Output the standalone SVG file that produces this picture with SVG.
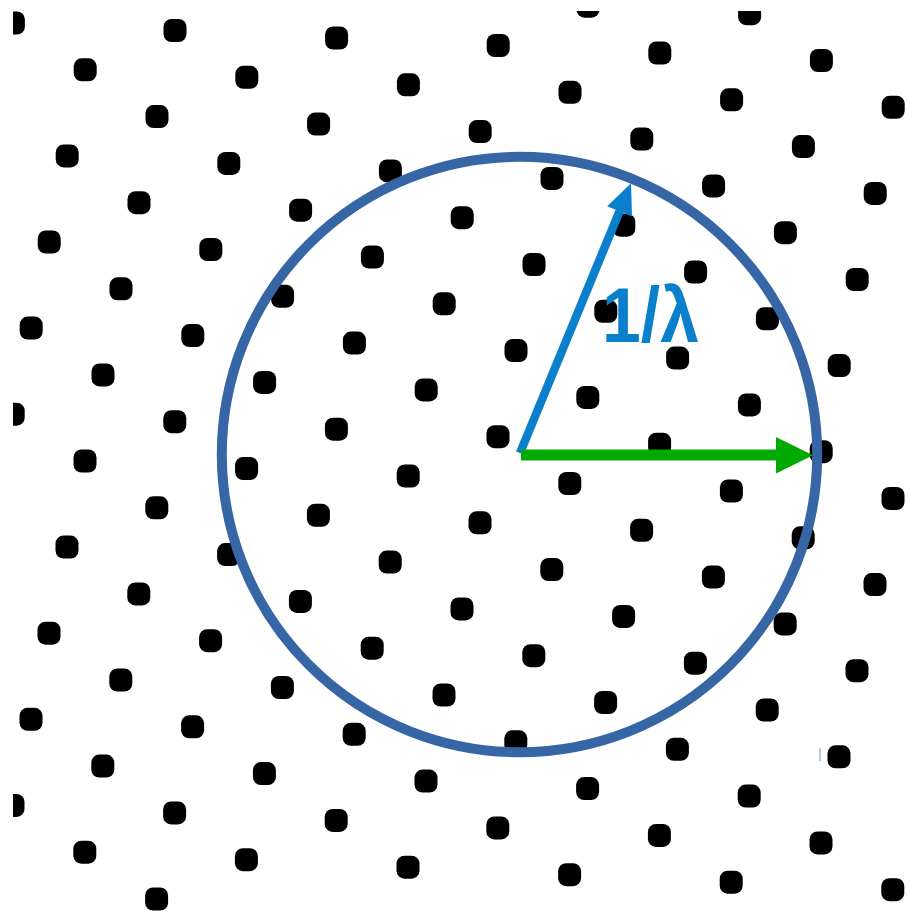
<svg xmlns="http://www.w3.org/2000/svg" xmlns:xlink="http://www.w3.org/1999/xlink" width="908" height="911" viewBox="0 0 908 911">
<defs>
<style>
.lbl{font-family:"Liberation Sans",Arial,sans-serif;font-weight:bold;fill:#0a80cc}
</style>
<rect id="d" x="-11.5" y="-11.5" width="23" height="23" rx="8" fill="#000"/>
<clipPath id="frame"><rect x="13" y="11" width="895" height="900"/></clipPath>
</defs>
<rect width="908" height="911" fill="#fff"/>
<g id="lattice" clip-path="url(#frame)">
<use xlink:href="#d" href="#d" x="588" y="6.2"/>
<use xlink:href="#d" href="#d" x="749.6" y="13.7"/>
<use xlink:href="#d" href="#d" x="13.4" y="23"/>
<use xlink:href="#d" href="#d" x="175" y="30.5"/>
<use xlink:href="#d" href="#d" x="336.6" y="38"/>
<use xlink:href="#d" href="#d" x="498.2" y="45.5"/>
<use xlink:href="#d" href="#d" x="659.8" y="53"/>
<use xlink:href="#d" href="#d" x="821.4" y="60.5"/>
<use xlink:href="#d" href="#d" x="85.2" y="69.8"/>
<use xlink:href="#d" href="#d" x="246.8" y="77.3"/>
<use xlink:href="#d" href="#d" x="408.4" y="84.8"/>
<use xlink:href="#d" href="#d" x="570" y="92.3"/>
<use xlink:href="#d" href="#d" x="731.6" y="99.8"/>
<use xlink:href="#d" href="#d" x="893.2" y="107.3"/>
<use xlink:href="#d" href="#d" x="157" y="116.6"/>
<use xlink:href="#d" href="#d" x="318.6" y="124.1"/>
<use xlink:href="#d" href="#d" x="480.2" y="131.6"/>
<use xlink:href="#d" href="#d" x="641.8" y="139.1"/>
<use xlink:href="#d" href="#d" x="803.4" y="146.6"/>
<use xlink:href="#d" href="#d" x="67.2" y="155.9"/>
<use xlink:href="#d" href="#d" x="228.8" y="163.4"/>
<use xlink:href="#d" href="#d" x="390.4" y="170.9"/>
<use xlink:href="#d" href="#d" x="552" y="178.4"/>
<use xlink:href="#d" href="#d" x="713.6" y="185.9"/>
<use xlink:href="#d" href="#d" x="875.2" y="193.4"/>
<use xlink:href="#d" href="#d" x="139" y="202.7"/>
<use xlink:href="#d" href="#d" x="300.6" y="210.2"/>
<use xlink:href="#d" href="#d" x="462.2" y="217.7"/>
<use xlink:href="#d" href="#d" x="623.8" y="225.2"/>
<use xlink:href="#d" href="#d" x="785.4" y="232.7"/>
<use xlink:href="#d" href="#d" x="49.2" y="242"/>
<use xlink:href="#d" href="#d" x="210.8" y="249.5"/>
<use xlink:href="#d" href="#d" x="372.4" y="257"/>
<use xlink:href="#d" href="#d" x="534" y="264.5"/>
<use xlink:href="#d" href="#d" x="695.6" y="272"/>
<use xlink:href="#d" href="#d" x="857.2" y="279.5"/>
<use xlink:href="#d" href="#d" x="121" y="288.8"/>
<use xlink:href="#d" href="#d" x="282.6" y="296.3"/>
<use xlink:href="#d" href="#d" x="444.2" y="303.8"/>
<use xlink:href="#d" href="#d" x="605.8" y="311.3"/>
<use xlink:href="#d" href="#d" x="767.4" y="318.8"/>
<use xlink:href="#d" href="#d" x="31.2" y="328.1"/>
<use xlink:href="#d" href="#d" x="192.8" y="335.6"/>
<use xlink:href="#d" href="#d" x="354.4" y="343.1"/>
<use xlink:href="#d" href="#d" x="516" y="350.6"/>
<use xlink:href="#d" href="#d" x="677.6" y="358.1"/>
<use xlink:href="#d" href="#d" x="839.2" y="365.6"/>
<use xlink:href="#d" href="#d" x="103" y="374.9"/>
<use xlink:href="#d" href="#d" x="264.6" y="382.4"/>
<use xlink:href="#d" href="#d" x="426.2" y="389.9"/>
<use xlink:href="#d" href="#d" x="587.8" y="397.4"/>
<use xlink:href="#d" href="#d" x="749.4" y="404.9"/>
<use xlink:href="#d" href="#d" x="13.2" y="414.2"/>
<use xlink:href="#d" href="#d" x="174.8" y="421.7"/>
<use xlink:href="#d" href="#d" x="336.4" y="429.2"/>
<use xlink:href="#d" href="#d" x="498" y="436.7"/>
<use xlink:href="#d" href="#d" x="659.6" y="444.2"/>
<use xlink:href="#d" href="#d" x="821.2" y="451.7"/>
<use xlink:href="#d" href="#d" x="85" y="461"/>
<use xlink:href="#d" href="#d" x="246.6" y="468.5"/>
<use xlink:href="#d" href="#d" x="408.2" y="476"/>
<use xlink:href="#d" href="#d" x="569.8" y="483.5"/>
<use xlink:href="#d" href="#d" x="731.4" y="491"/>
<use xlink:href="#d" href="#d" x="893" y="498.5"/>
<use xlink:href="#d" href="#d" x="156.8" y="507.8"/>
<use xlink:href="#d" href="#d" x="318.4" y="515.3"/>
<use xlink:href="#d" href="#d" x="480" y="522.8"/>
<use xlink:href="#d" href="#d" x="641.6" y="530.3"/>
<use xlink:href="#d" href="#d" x="803.2" y="537.8"/>
<use xlink:href="#d" href="#d" x="67" y="547.1"/>
<use xlink:href="#d" href="#d" x="228.6" y="554.6"/>
<use xlink:href="#d" href="#d" x="390.2" y="562.1"/>
<use xlink:href="#d" href="#d" x="551.8" y="569.6"/>
<use xlink:href="#d" href="#d" x="713.4" y="577.1"/>
<use xlink:href="#d" href="#d" x="875" y="584.6"/>
<use xlink:href="#d" href="#d" x="138.8" y="593.9"/>
<use xlink:href="#d" href="#d" x="300.4" y="601.4"/>
<use xlink:href="#d" href="#d" x="462" y="608.9"/>
<use xlink:href="#d" href="#d" x="623.6" y="616.4"/>
<use xlink:href="#d" href="#d" x="785.2" y="623.9"/>
<use xlink:href="#d" href="#d" x="49" y="633.2"/>
<use xlink:href="#d" href="#d" x="210.6" y="640.7"/>
<use xlink:href="#d" href="#d" x="372.2" y="648.2"/>
<use xlink:href="#d" href="#d" x="533.8" y="655.7"/>
<use xlink:href="#d" href="#d" x="695.4" y="663.2"/>
<use xlink:href="#d" href="#d" x="857" y="670.7"/>
<use xlink:href="#d" href="#d" x="120.8" y="680"/>
<use xlink:href="#d" href="#d" x="282.4" y="687.5"/>
<use xlink:href="#d" href="#d" x="444" y="695"/>
<use xlink:href="#d" href="#d" x="605.6" y="702.5"/>
<use xlink:href="#d" href="#d" x="767.2" y="710"/>
<use xlink:href="#d" href="#d" x="31" y="719.3"/>
<use xlink:href="#d" href="#d" x="192.6" y="726.8"/>
<use xlink:href="#d" href="#d" x="354.2" y="734.3"/>
<use xlink:href="#d" href="#d" x="515.8" y="741.8"/>
<use xlink:href="#d" href="#d" x="677.4" y="749.3"/>
<use xlink:href="#d" href="#d" x="839" y="756.8"/>
<use xlink:href="#d" href="#d" x="102.8" y="766.1"/>
<use xlink:href="#d" href="#d" x="264.4" y="773.6"/>
<use xlink:href="#d" href="#d" x="426" y="781.1"/>
<use xlink:href="#d" href="#d" x="587.6" y="788.6"/>
<use xlink:href="#d" href="#d" x="749.2" y="796.1"/>
<use xlink:href="#d" href="#d" x="13" y="805.4"/>
<use xlink:href="#d" href="#d" x="174.6" y="812.9"/>
<use xlink:href="#d" href="#d" x="336.2" y="820.4"/>
<use xlink:href="#d" href="#d" x="497.8" y="827.9"/>
<use xlink:href="#d" href="#d" x="659.4" y="835.4"/>
<use xlink:href="#d" href="#d" x="821" y="842.9"/>
<use xlink:href="#d" href="#d" x="84.8" y="852.2"/>
<use xlink:href="#d" href="#d" x="246.4" y="859.7"/>
<use xlink:href="#d" href="#d" x="408" y="867.2"/>
<use xlink:href="#d" href="#d" x="569.6" y="874.7"/>
<use xlink:href="#d" href="#d" x="731.2" y="882.2"/>
<use xlink:href="#d" href="#d" x="892.8" y="889.7"/>
<use xlink:href="#d" href="#d" x="156.6" y="899"/>
</g>
<g id="sphere">
<circle cx="519.5" cy="454.5" r="297.7" fill="none" stroke="#3766a6" stroke-width="10"/>
</g>
<g id="connectors">
<g id="arrow-k">
<line x1="520" y1="453" x2="619.6" y2="211.1" stroke="#0a80cc" stroke-width="8.5"/>
<polygon points="631,183.3 632,216.5 607.2,206.3" fill="#0a80cc"/>
</g>
<g id="arrow-k0">
<line x1="521" y1="455" x2="778" y2="455" stroke="#00aa00" stroke-width="11"/>
<polygon points="776,437 813,455.3 776,473.5" fill="#00aa00"/>
</g>
</g>
<g id="label">
<text class="lbl" x="602" y="342" font-size="78" textLength="97" lengthAdjust="spacingAndGlyphs">1/λ</text>
</g>
<line x1="820" y1="748" x2="820" y2="761" stroke="#9ab8dd" stroke-width="1.5"/>
</svg>
